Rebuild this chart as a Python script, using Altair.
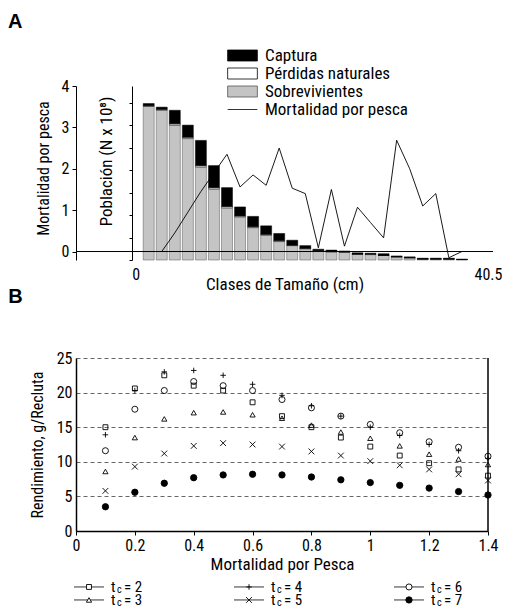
import altair as alt
import pandas as pd

FONT = "Liberation Sans Narrow, Roboto Condensed, DejaVu Sans Condensed, Roboto, Liberation Sans, sans-serif"

# ---------------- Panel A data ----------------
clases_cm = [1.5, 3.0, 4.5, 6.0, 7.5, 9.0, 10.5, 12.0, 13.5, 15.0, 16.5, 18.0, 19.5,
             21.0, 22.5, 24.0, 25.5, 27.0, 28.5, 30.0, 31.5, 33.0, 34.5, 36.0, 37.5]
sobrevivientes = [3.42, 3.33, 3.00, 2.70, 2.07, 1.58, 1.16, 0.96, 0.72, 0.55, 0.41, 0.32, 0.25,
                  0.20, 0.18, 0.17, 0.13, 0.12, 0.10, 0.07, 0.05, 0.02, 0.02, 0.02, 0.01]
perdidas = [0.01, 0.02, 0.03, 0.03, 0.03, 0.03, 0.03, 0.02, 0.02, 0.02, 0.02, 0.01, 0.01,
            0.01, 0.01, 0.01, 0.00, 0.01, 0.00, 0.00, 0.00, 0.00, 0.00, 0.00, 0.00]
captura = [0.05, 0.05, 0.30, 0.27, 0.56, 0.49, 0.42, 0.20, 0.23, 0.19, 0.16, 0.11, 0.06,
           0.03, 0.03, 0.02, 0.03, 0.02, 0.04, 0.02, 0.02, 0.02, 0.02, 0.02, 0.01]

mort_cm = [3.0, 4.5, 6.0, 7.5, 9.0, 10.5, 12.0, 13.5, 15.0, 16.5, 18.0, 19.5,
           21.0, 22.5, 24.0, 25.5, 27.0, 28.5, 30.0, 31.5, 33.0, 34.5, 36.0, 37.5]
mortalidad = [0.0, 0.45, 0.95, 1.45, 1.9, 2.35, 1.56, 1.85, 1.6, 2.5, 1.53, 1.4,
              0.09, 1.5, 0.13, 1.07, 0.7, 0.33, 2.69, 2.0, 1.1, 1.4, -0.15, 0.0]
linea_cero = [0.0]

series_A = ["Captura", "Pérdidas naturales", "Sobrevivientes", "Mortalidad por pesca"]

# ---------------- Panel B data ----------------
mort_pesca = [0.1, 0.2, 0.3, 0.4, 0.5, 0.6, 0.7, 0.8, 0.9, 1.0, 1.1, 1.2, 1.3, 1.4]
tc2 = [15.0, 20.6, 22.5, 21.0, 20.3, 18.6, 16.6, 15.0, 13.5, 12.2, 10.9, 9.8, 8.9, 8.0]
tc3 = [8.6, 13.5, 16.2, 17.1, 17.2, 16.8, 16.3, 15.3, 14.3, 13.4, 12.3, 11.1, 10.4, 9.6]
tc4 = [13.9, 20.3, 23.0, 23.2, 22.5, 21.2, 19.6, 18.1, 16.6, 15.0, 13.8, 12.5, 11.6, 10.5]
tc5 = [5.8, 9.3, 11.2, 12.3, 12.7, 12.5, 12.2, 11.5, 10.9, 10.1, 9.5, 8.9, 8.2, 7.3]
tc6 = [11.6, 17.6, 20.3, 21.6, 21.0, 20.3, 19.0, 17.8, 16.6, 15.4, 14.2, 12.9, 12.1, 10.8]
tc7 = [3.5, 5.6, 6.9, 7.7, 8.1, 8.2, 8.1, 7.8, 7.4, 7.0, 6.6, 6.2, 5.7, 5.2]
tc_valores = ["2", "3", "4", "5", "6", "7"]
borde_derecho = [1.4]

# ---------------- Panel A ----------------
filas = []
for nombre, orden, vals in [("Sobrevivientes", 0, sobrevivientes),
                            ("Pérdidas naturales", 1, perdidas),
                            ("Captura", 2, captura)]:
    for c, v in zip(clases_cm, vals):
        filas.append({"clase": c, "valor": v, "serie": nombre, "orden": orden})
dfA = pd.DataFrame(filas)
df_mort = pd.DataFrame({"clase": mort_cm, "mort": mortalidad})
df_cero = pd.DataFrame({"cero": linea_cero})
df_leg = pd.DataFrame({"serie": series_A})

rect_path = "M-2.7,-1L2.7,-1L2.7,1L-2.7,1Z"
fill_A = alt.Scale(domain=series_A, range=["black", "white", "#c4c4c4", "white"])
stroke_A = alt.Scale(domain=series_A, range=["black", "black", "#555555", "black"])
shape_A = alt.Scale(domain=series_A, range=[rect_path, rect_path, rect_path, "M-2.7,0L2.7,0"])
legend_A = alt.Legend(title=None, orient="none", legendX=158, legendY=-39,
                      symbolSize=121, symbolStrokeWidth=0.8,
                      symbolOpacity=1, labelFont=FONT, labelFontSize=17, labelColor="black",
                      rowPadding=0, labelOffset=14)

x_A = alt.X("clase:Q", scale=alt.Scale(domain=[-6.28, 40.5], nice=False, zero=False),
            axis=alt.Axis(values=[0, 40.5], format=".1~f", domain=False, ticks=False, grid=False,
                          labelPadding=6, labelFlush=False, labelAlign="center",
                          title="Clases de Tamaño (cm)",
                          titleFontSize=17, titleY=16, titleBaseline="top"))

bars = alt.Chart(dfA).mark_bar(size=11, strokeWidth=0.5).encode(
    x=x_A,
    y=alt.Y("valor:Q", stack="zero",
            scale=alt.Scale(domain=[0, 3.87], nice=False, zero=False),
            axis=alt.Axis(orient="left", offset=-56, values=[0, 0.5, 1, 1.5, 2, 2.5, 3, 3.5],
                          labels=False, tickSize=3, grid=False, title="Población (N x 10⁸)",
                          titleFontSize=17, titlePadding=13, titleY=75)),
    fill=alt.Fill("serie:N", scale=fill_A, legend=legend_A),
    stroke=alt.Stroke("serie:N", scale=stroke_A, legend=legend_A),
    order=alt.Order("orden:Q"),
)
leg_dummy = alt.Chart(df_leg).transform_filter("false").mark_point(filled=True, opacity=1).encode(
    fill=alt.Fill("serie:N", scale=fill_A, legend=legend_A),
    stroke=alt.Stroke("serie:N", scale=stroke_A, legend=legend_A),
    shape=alt.Shape("serie:N", scale=shape_A, legend=legend_A),
)
linea = alt.Chart(df_mort).mark_line(color="black", strokeWidth=0.9).encode(
    x=x_A,
    y=alt.Y("mort:Q", scale=alt.Scale(domain=[-0.205, 4], nice=False, zero=False),
            axis=alt.Axis(orient="left", values=[0, 1, 2, 3, 4], tickSize=4, labelPadding=3,
                          grid=False, title="Mortalidad por pesca", titlePadding=10, titleY=82)),
)
cero = alt.Chart(df_cero).mark_rule(color="black", strokeWidth=1).encode(y=alt.Y("cero:Q"))

chartA = alt.layer(alt.layer(bars, leg_dummy), alt.layer(linea, cero)).resolve_scale(
    y="independent").properties(
    width=417, height=174,
    title=alt.TitleParams("A", anchor="start", fontSize=20, fontWeight="bold", font="Liberation Sans",
                          dx=-27, offset=15))

# ---------------- Panel B ----------------
filasB = []
for tc, vals in zip(tc_valores, [tc2, tc3, tc4, tc5, tc6, tc7]):
    for m, v in zip(mort_pesca, vals):
        filasB.append({"M": m, "valor": v, "serie": tc})
dfB = pd.DataFrame(filasB)

plus_path = "M-1,0L1,0M0,-1L0,1"
x_path = "M-1,-1L1,1M-1,1L1,-1"
shape_B = alt.Scale(domain=tc_valores, range=["square", "triangle-up", plus_path, x_path, "circle", "circle"])
fill_B = alt.Scale(domain=tc_valores, range=["transparent"] * 5 + ["black"])
size_B = alt.Scale(domain=tc_valores, range=[24, 40, 49, 25, 38, 38])

puntos = alt.Chart(dfB).mark_point(filled=False, color="black", strokeWidth=0.9, opacity=1).encode(
    x=alt.X("M:Q", scale=alt.Scale(domain=[0, 1.4], nice=False, zero=False),
            axis=alt.Axis(values=[0, 0.2, 0.4, 0.6, 0.8, 1.0, 1.2, 1.4], format="~g", grid=False,
                          tickSize=4, labelPadding=2, labelFlush=False, domainWidth=1.5,
                          title="Mortalidad por Pesca", titleFontSize=17, titlePadding=3)),
    y=alt.Y("valor:Q", scale=alt.Scale(domain=[0, 25], nice=False),
            axis=alt.Axis(values=[0, 5, 10, 15, 20, 25], grid=True, gridDash=[4, 3],
                          gridColor="black", gridWidth=0.6, ticks=False, labelPadding=4,
                          domainWidth=1.5, title="Rendimiento, g/Recluta", titlePadding=11)),
    shape=alt.Shape("serie:N", scale=shape_B, legend=None),
    fill=alt.Fill("serie:N", scale=fill_B, legend=None),
    size=alt.Size("serie:N", scale=size_B, legend=None),
)
borde = alt.Chart(pd.DataFrame({"borde": borde_derecho})).mark_rule(
    color="black", strokeWidth=1.5).encode(x=alt.X("borde:Q"))

chartB = alt.layer(puntos, borde).properties(
    width=412, height=173,
    title=alt.TitleParams("B", anchor="start", fontSize=20, fontWeight="bold", font="Liberation Sans",
                          dx=-21, offset=43))

# ---------------- Legend of panel B ----------------
leg_rows = []
for i, tc in enumerate(tc_valores):
    leg_rows.append({"serie": tc, "col": i // 2, "fila": i % 2, "etiqueta": "= " + tc})
dfC = pd.DataFrame(leg_rows)

xC = alt.X("col:O", scale=alt.Scale(type="point", padding=0.08125), axis=None)
yC = alt.Y("fila:O", scale=alt.Scale(type="point", padding=0.654, align=0.88), axis=None)
baseC = alt.Chart(dfC)
regla = baseC.mark_rule(color="black", strokeWidth=0.8, xOffset=-15, x2Offset=15).encode(
    x=xC, x2=alt.X2("col:O"), y=yC)
marcas = baseC.mark_point(filled=False, color="black", strokeWidth=0.9, opacity=1).encode(
    x=xC, y=yC,
    shape=alt.Shape("serie:N", scale=shape_B, legend=None),
    fill=alt.Fill("serie:N", scale=alt.Scale(domain=tc_valores, range=["white"] * 5 + ["black"]), legend=None),
    size=alt.Size("serie:N", scale=size_B, legend=None),
)
t_txt = baseC.mark_text(align="left", baseline="middle", dx=22, font=FONT, fontSize=15).encode(
    x=xC, y=yC, text=alt.value("t"))
c_txt = baseC.mark_text(align="left", baseline="middle", dx=28, dy=3, font=FONT, fontSize=10).encode(
    x=xC, y=yC, text=alt.value("c"))
eq_txt = baseC.mark_text(align="left", baseline="middle", dx=35, font=FONT, fontSize=15).encode(
    x=xC, y=yC, text="etiqueta:N")
chartC = alt.layer(regla, marcas, t_txt, c_txt, eq_txt).properties(width=346, height=30)

chart = alt.vconcat(chartA, chartB, chartC, spacing=-5).resolve_scale(
    fill="independent", shape="independent", size="independent", stroke="independent"
).properties(padding={"left": 0, "top": 4, "right": 0, "bottom": 0}).configure_view(
    stroke=None).configure_axis(
    labelFont=FONT, titleFont=FONT, labelFontSize=16, titleFontSize=16, titleFontWeight="normal",
    labelColor="black", titleColor="black", domainColor="black", tickColor="black"
).configure_title(color="black")

chart.save("out.html", embed_options={"renderer": "svg", "actions": False})
